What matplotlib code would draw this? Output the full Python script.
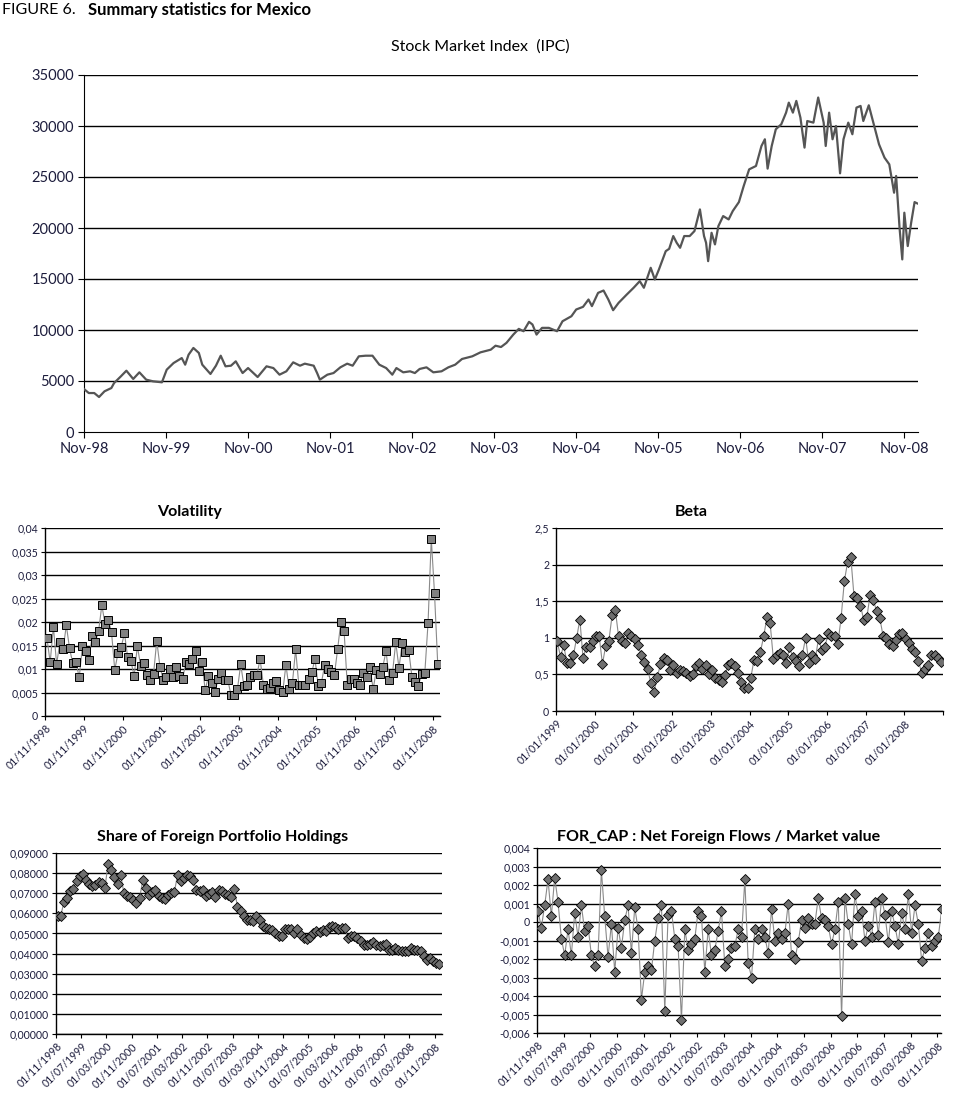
#!/usr/bin/env python3

import numpy as np
import matplotlib
matplotlib.use('Agg')
import matplotlib.pyplot as plt

plt.rcParams['font.family'] = ['Lato', 'DejaVu Sans']

# ---------------- data ----------------
# Stock market index (IPC): months since Nov-98, index level
ipc_month = [0.0, 0.7, 1.5, 2.2, 3.0, 4.0, 4.4, 5.4, 6.2, 7.2, 8.1, 9.1, 10.1, 11.4,
             12.1, 13.1, 14.3, 14.8, 15.3, 16.0, 16.8, 17.3, 18.5, 19.3, 20.0, 20.7,
             21.5, 22.2, 23.2, 24.0, 25.4, 26.7, 27.7, 28.6, 29.6, 30.6, 31.6, 32.3,
             33.6, 34.1, 34.5, 35.6, 36.5, 37.5, 38.5, 39.3, 40.2, 41.2, 42.2, 43.2,
             44.2, 45.1, 45.7, 46.7, 47.7, 48.4, 49.1, 50.1, 51.1, 52.3, 53.3, 54.3,
             55.3, 56.8, 58.0, 59.5, 60.2, 61.0,
             61.8, 62.8, 63.6, 64.3, 65.1, 65.6, 66.2, 67.0, 68.0, 69.2, 70.0, 71.3,
             72.0, 73.0, 73.8, 74.3, 75.2, 76.0, 76.7, 77.4, 78.2, 79.4, 80.4, 81.3,
             81.9, 82.9, 83.5, 84.1, 85.1, 85.6, 86.2, 86.7, 87.2, 87.8, 88.6, 89.3,
             90.1, 90.7, 91.0, 91.3, 91.8, 92.3, 92.8, 93.5, 94.3, 94.9, 95.8, 96.5,
             97.3, 98.3, 99.1, 99.6, 100.0, 100.6, 101.2, 102.0, 102.7, 103.1, 103.7,
             104.2, 104.8, 105.4, 105.8, 106.7, 107.4, 108.2, 108.5, 109.0, 109.5,
             110.0, 110.6, 111.1, 111.8, 112.4, 113.0, 113.6, 114.0, 114.8, 115.6,
             116.3, 117.1, 117.8, 118.5, 118.8, 119.3, 119.7, 120.0, 120.5, 121.0,
             121.5, 121.9]
ipc_value = [4215, 3820, 3820, 3430, 3990, 4310, 4800, 5460, 6010, 5200, 5850, 5130,
             4970, 4870, 6110, 6760, 7250, 6600, 7580, 8240, 7750, 6600, 5690, 6500,
             7480, 6440, 6500, 6930, 5780, 6270, 5390, 6440, 6270, 5620, 5950, 6830,
             6500, 6700, 6500, 5780, 5130, 5620, 5780, 6340, 6700, 6500, 7420, 7480,
             7480, 6600, 6270, 5620, 6270, 5850, 5950, 5780, 6180, 6340, 5850, 5950,
             6340, 6600, 7160, 7420, 7810, 8070, 8460, 8330,
             8740, 9550, 10110, 9880, 10800, 10540, 9550, 10210, 10210, 9880, 10860,
             11350, 12010, 12270, 12990, 12340, 13640, 13870, 12990, 11940, 12660,
             13480, 14140, 14790, 14140, 16100, 14950, 15930, 17730, 17960, 19210,
             18550, 18060, 19210, 19210, 19700, 21820, 19210, 18550, 16750, 19530,
             18390, 20190, 21170, 20840, 21660, 22540, 24110, 25750, 26080, 28040,
             28700, 25820, 28040, 29680, 30170, 31310, 32290, 31310, 32460, 30820,
             27880, 30490, 30330, 32790, 30330, 28040, 31310, 28700, 30000, 25360,
             28700, 30330, 29190, 31800, 31970, 30490, 32030, 30000, 28200, 26900,
             26240, 23460, 25100, 20020, 16920, 21500, 18230, 20520, 22540, 22410]
ipc_ticks = ['Nov-98', 'Nov-99', 'Nov-00', 'Nov-01', 'Nov-02', 'Nov-03', 'Nov-04',
             'Nov-05', 'Nov-06', 'Nov-07', 'Nov-08']

# Volatility, monthly Nov-1998 .. Dec-2008
volatility = [0.0166, 0.0114, 0.0190, 0.0110, 0.0157, 0.0142, 0.0193, 0.0144, 0.0112, 0.0114,
              0.0082, 0.0149, 0.0139, 0.0119, 0.0170, 0.0158, 0.0181, 0.0236, 0.0195, 0.0205,
              0.0178, 0.0098, 0.0134, 0.0147, 0.0176, 0.0125, 0.0117, 0.0085, 0.0149, 0.0107,
              0.0112, 0.0087, 0.0077, 0.0089, 0.0160, 0.0105, 0.0077, 0.0082, 0.0100, 0.0082,
              0.0105, 0.0086, 0.0078, 0.0114, 0.0111, 0.0121, 0.0138, 0.0096, 0.0114, 0.0055,
              0.0085, 0.0070, 0.0051, 0.0078, 0.0091, 0.0077, 0.0077, 0.0044, 0.0045, 0.0058,
              0.0110, 0.0063, 0.0067, 0.0083, 0.0087, 0.0087, 0.0121, 0.0067, 0.0057, 0.0059,
              0.0070, 0.0075, 0.0055, 0.0051, 0.0109, 0.0057, 0.0070, 0.0142, 0.0065, 0.0065,
              0.0065, 0.0078, 0.0093, 0.0121, 0.0064, 0.0071, 0.0109, 0.0100, 0.0094, 0.0087,
              0.0142, 0.0200, 0.0181, 0.0065, 0.0078, 0.0078, 0.0070, 0.0067, 0.0092, 0.0082,
              0.0105, 0.0057, 0.0098, 0.0089, 0.0105, 0.0138, 0.0077, 0.0092, 0.0157, 0.0102,
              0.0155, 0.0136, 0.0141, 0.0084, 0.0073, 0.0064, 0.0089, 0.0092, 0.0198, 0.0377,
              0.0261, 0.0110]
vol_xlabels = ['01/11/%d' % y for y in range(1998, 2009)]
vol_yticks = [0, 0.005, 0.01, 0.015, 0.02, 0.025, 0.03, 0.035, 0.04]
vol_ylabels = ['0', '0,005', '0,01', '0,015', '0,02', '0,025', '0,03', '0,035', '0,04']

# Beta, monthly Jan-1999 .. Dec-2008
beta = [0.95, 0.74, 0.90, 0.65, 0.66, 0.76, 1.00, 1.25, 0.72, 0.88,
        0.87, 0.95, 1.03, 1.02, 0.64, 0.89, 0.96, 1.31, 1.38, 1.02,
        0.96, 0.93, 1.06, 1.02, 0.99, 0.90, 0.77, 0.67, 0.58, 0.38,
        0.26, 0.46, 0.64, 0.72, 0.70, 0.56, 0.63, 0.52, 0.56, 0.54,
        0.52, 0.48, 0.50, 0.61, 0.65, 0.58, 0.63, 0.50, 0.56, 0.45,
        0.42, 0.39, 0.49, 0.63, 0.65, 0.61, 0.52, 0.39, 0.31, 0.32,
        0.45, 0.70, 0.68, 0.81, 1.02, 1.28, 1.20, 0.71, 0.77, 0.79,
        0.77, 0.66, 0.87, 0.74, 0.68, 0.62, 0.77, 1.00, 0.66, 0.77,
        0.71, 0.99, 0.83, 0.88, 1.06, 1.02, 1.02, 0.92, 1.27, 1.77,
        2.03, 2.11, 1.57, 1.54, 1.44, 1.25, 1.28, 1.59, 1.52, 1.36,
        1.27, 1.03, 1.00, 0.92, 0.89, 0.97, 1.05, 1.06, 0.98, 0.93,
        0.85, 0.81, 0.68, 0.52, 0.58, 0.63, 0.77, 0.76, 0.72, 0.67]
beta_xlabels = ['01/01/%d' % y for y in range(1999, 2009)]
beta_yticks = [0, 0.5, 1, 1.5, 2, 2.5]
beta_ylabels = ['0', '0,5', '1', '1,5', '2', '2,5']

# Share of foreign portfolio holdings, monthly Nov-1998 .. Dec-2008
share = [0.0585, 0.0588, 0.0655, 0.0676, 0.0709, 0.0721, 0.0762, 0.0787, 0.0796, 0.0767,
         0.0748, 0.0734, 0.0739, 0.0754, 0.0751, 0.0726, 0.0847, 0.0817, 0.0781, 0.0746,
         0.0792, 0.0701, 0.0688, 0.0681, 0.0668, 0.0651, 0.0676, 0.0767, 0.0726, 0.0693,
         0.0704, 0.0718, 0.0685, 0.0676, 0.0671, 0.0693, 0.0701, 0.0704, 0.0792, 0.0759,
         0.0776, 0.0792, 0.0787, 0.0764, 0.0714, 0.0709, 0.0714, 0.0688, 0.0698, 0.0704,
         0.0681, 0.0714, 0.0709, 0.0698, 0.0693, 0.0681, 0.0721, 0.0632, 0.0610, 0.0585,
         0.0569, 0.0565, 0.0560, 0.0585, 0.0565, 0.0535, 0.0527, 0.0522, 0.0515, 0.0502,
         0.0489, 0.0486, 0.0524, 0.0522, 0.0522, 0.0502, 0.0522, 0.0494, 0.0477, 0.0472,
         0.0482, 0.0502, 0.0514, 0.0506, 0.0515, 0.0511, 0.0532, 0.0535, 0.0532, 0.0522,
         0.0527, 0.0527, 0.0477, 0.0486, 0.0489, 0.0477, 0.0461, 0.0444, 0.0444, 0.0449,
         0.0456, 0.0441, 0.0439, 0.0444, 0.0449, 0.0419, 0.0416, 0.0428, 0.0419, 0.0414,
         0.0411, 0.0414, 0.0428, 0.0419, 0.0419, 0.0411, 0.0386, 0.0366, 0.0378, 0.0361,
         0.0353, 0.0348]
month_labels = ['01/11/1998', '01/07/1999', '01/03/2000', '01/11/2000', '01/07/2001',
                '01/03/2002', '01/11/2002', '01/07/2003', '01/03/2004', '01/11/2004',
                '01/07/2005', '01/03/2006', '01/11/2006', '01/07/2007', '01/03/2008',
                '01/11/2008']
share_yticks = [0, 0.01, 0.02, 0.03, 0.04, 0.05, 0.06, 0.07, 0.08, 0.09]
share_ylabels = ['0,00000', '0,01000', '0,02000', '0,03000', '0,04000', '0,05000',
                 '0,06000', '0,07000', '0,08000', '0,09000']

# FOR_CAP: net foreign flows / market value, monthly Nov-1998 .. Dec-2008
for_cap = [0.0006, -0.0003, 0.0009, 0.0023, 0.0003, 0.0024, 0.0011, -0.0009, -0.0018, -0.0004,
           -0.0018, 0.0005, -0.0008, 0.0009, -0.0005, -0.0002, -0.0018, -0.0024, -0.0018, 0.0028,
           0.0003, -0.0019, -0.0001, -0.0027, -0.0003, -0.0014, 0.0001, 0.0009, -0.0017, 0.0008,
           -0.0004, -0.0042, -0.0027, -0.0024, -0.0026, -0.0010, 0.0002, 0.0009, -0.0048, 0.0004,
           0.0006, -0.0009, -0.0013, -0.0053, -0.0004, -0.0015, -0.0012, -0.0009, 0.0006, 0.0003,
           -0.0027, -0.0004, -0.0018, -0.0015, -0.0005, 0.0006, -0.0024, -0.0020, -0.0014, -0.0013,
           -0.0004, -0.0008, 0.0023, -0.0022, -0.0030, -0.0004, -0.0009, -0.0004, -0.0008, -0.0017,
           0.0007, -0.0010, -0.0006, -0.0009, -0.0006, 0.0010, -0.0018, -0.0020, -0.0011, 0.0001,
           -0.0003, 0.0002, -0.0001, -0.0001, 0.0013, 0.0002, 0.0001, -0.0002, -0.0012, -0.0004,
           0.0011, -0.0051, 0.0013, -0.0001, -0.0012, 0.0015, 0.0003, 0.0006, -0.0010, -0.0002,
           -0.0008, 0.0011, -0.0007, 0.0013, 0.0004, -0.0011, 0.0006, -0.0002, -0.0012, 0.0005,
           -0.0004, 0.0015, -0.0006, 0.0009, -0.0001, -0.0021, -0.0014, -0.0006, -0.0013, -0.0010,
           -0.0008, 0.0007]
fc_yticks = [-0.006, -0.005, -0.004, -0.003, -0.002, -0.001, 0, 0.001, 0.002, 0.003, 0.004]
fc_ylabels = ['-0,006', '-0,005', '-0,004', '-0,003', '-0,002', '-0,001', '0',
              '0,001', '0,002', '0,003', '0,004']

TICKCOL = '#1c1c3c'


def px_axes(fig, left, top, right, bottom):
    W, H = 963.0, 1115.0
    return fig.add_axes([left / W, 1 - bottom / H, (right - left) / W, (bottom - top) / H])


def style_small(ax, yticks, ylabels, xticks, xlabels, xlim):
    ax.set_ylim(yticks[0], yticks[-1])
    ax.set_yticks(yticks)
    ax.set_yticklabels(ylabels)
    ax.set_xticks(xticks)
    ax.set_xticklabels(xlabels, rotation=45, ha='right', rotation_mode='anchor')
    ax.set_xlim(*xlim)
    for y in yticks:
        ax.axhline(y, color='black', lw=1.0, zorder=1)
    for s in ['top', 'right']:
        ax.spines[s].set_visible(False)
    ax.spines['left'].set_linewidth(1.0)
    ax.spines['bottom'].set_linewidth(1.0)
    ax.tick_params(axis='both', direction='out', length=3, width=0.8,
                   labelsize=7.6, colors='black', labelcolor=TICKCOL, pad=2)


fig = plt.figure(figsize=(9.63, 11.15), dpi=100)

fig.text(2 / 963, 1 - 10 / 1115, 'FIGURE 6.', fontsize=11.5, va='center', ha='left')
fig.text(88 / 963, 1 - 10 / 1115, 'Summary statistics for Mexico', fontsize=12,
         fontweight='bold', va='center', ha='left')

# ---- stock market index ----
ax = px_axes(fig, 84, 75, 918, 432)
ax.plot(ipc_month, ipc_value, color='#555555', lw=1.6, zorder=3)
ax.set_ylim(0, 35000)
ax.set_yticks(range(0, 35001, 5000))
ax.set_xlim(0, 122.0)
ax.set_xticks(range(0, 121, 12))
ax.set_xticklabels(ipc_ticks)
for y in range(5000, 35001, 5000):
    ax.axhline(y, color='black', lw=1.0, zorder=1)
for s in ['top', 'right']:
    ax.spines[s].set_visible(False)
ax.tick_params(axis='both', direction='out', length=4, width=0.8, labelsize=10.5,
               labelcolor=TICKCOL, pad=3)
fig.text(480 / 963, 1 - 47 / 1115, 'Stock Market Index  (IPC)', fontsize=11.5,
         ha='center', va='center')

# ---- volatility ----
ax = px_axes(fig, 45, 528, 440, 716)
vx = np.arange(len(volatility)) + 0.6
ax.plot(vx, volatility, color='#8a8a8a', lw=0.8, zorder=2)
ax.plot(vx, volatility, ls='none', marker='s', ms=5.2, mfc='#808080', mec='black',
        mew=0.7, zorder=3)
style_small(ax, vol_yticks, vol_ylabels, range(0, 121, 12), vol_xlabels, (0, 122.3))
fig.text(190 / 963, 1 - 512 / 1115, 'Volatility', fontsize=11.5, fontweight='bold',
         ha='center', va='center')

# ---- beta ----
ax = px_axes(fig, 556, 528, 943, 711)
bx = np.arange(len(beta)) + 0.4
ax.plot(bx, beta, color='#8a8a8a', lw=0.8, zorder=2)
ax.plot(bx, beta, ls='none', marker='D', ms=5.0, mfc='#6f6f6f', mec='black',
        mew=0.6, zorder=3)
style_small(ax, beta_yticks, beta_ylabels, list(range(0, 121, 12)),
            beta_xlabels + [''], (0, 120))
fig.text(691 / 963, 1 - 512 / 1115, 'Beta', fontsize=11.5, fontweight='bold',
         ha='center', va='center')

# ---- share of foreign portfolio holdings ----
ax = px_axes(fig, 56, 853, 442, 1034)
sx = np.arange(len(share)) + 0.5
ax.plot(sx, share, color='#8a8a8a', lw=0.8, zorder=2)
ax.plot(sx, share, ls='none', marker='D', ms=5.0, mfc='#6f6f6f', mec='black',
        mew=0.6, zorder=3)
style_small(ax, share_yticks, share_ylabels, range(0, 121, 8), month_labels, (0, 122.3))
fig.text(223 / 963, 1 - 837 / 1115, 'Share of Foreign Portfolio Holdings', fontsize=11.5,
         fontweight='bold', ha='center', va='center')

# ---- FOR_CAP ----
ax = px_axes(fig, 537, 848, 941, 1033)
fx = np.arange(len(for_cap)) + 0.3
ax.plot(fx, for_cap, color='#8a8a8a', lw=0.8, zorder=2)
ax.plot(fx, for_cap, ls='none', marker='D', ms=5.0, mfc='#6f6f6f', mec='black',
        mew=0.6, zorder=3)
style_small(ax, fc_yticks, fc_ylabels, range(0, 121, 8), month_labels, (0, 121.1))
fig.text(719 / 963, 1 - 837 / 1115, 'FOR_CAP : Net Foreign Flows / Market value',
         fontsize=11.5, fontweight='bold', ha='center', va='center')

fig.savefig('out.png', dpi=100)
